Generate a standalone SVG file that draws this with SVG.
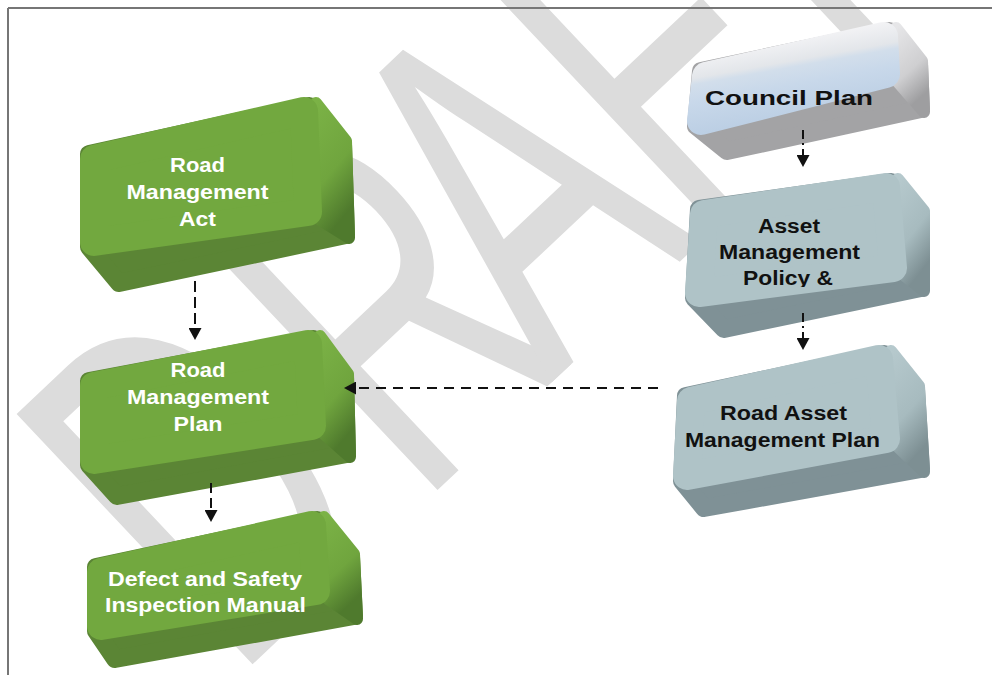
<svg xmlns="http://www.w3.org/2000/svg" width="992" height="675" viewBox="0 0 992 675">
  <defs>
    <style>
      .wm { font-family: "Liberation Sans", Arial, sans-serif; font-size: 500px; fill: #dcdcdc; }
      .lbl { font-family: "Liberation Sans", Arial, sans-serif; font-weight: bold; font-size: 20px; text-anchor: middle; }
      .w { fill: #ffffff; }
      .k { fill: #111111; }
      .rnd { stroke-linejoin: round; }
      .g-bot { fill: #5b8535; stroke: #5b8535; stroke-width: 18; }
      .g-side { fill: url(#gSide); stroke: url(#gSide); stroke-width: 12; }
      .g-front { fill: #72a83f; stroke: #72a83f; stroke-width: 28; }
      .b-bot { fill: #7f9196; stroke: #7f9196; stroke-width: 18; }
      .b-side { fill: url(#bSide); stroke: url(#bSide); stroke-width: 12; }
      .b-front { fill: #afc3c7; stroke: #afc3c7; stroke-width: 28; }
      .c-bot { fill: #a3a3a5; stroke: #a3a3a5; stroke-width: 18; }
      .c-side { fill: url(#cSide); stroke: url(#cSide); stroke-width: 12; }
      .c-front { fill: url(#cFront); stroke: url(#cFront); stroke-width: 28; }
      .conn { fill: none; stroke: #111111; stroke-width: 2; marker-end: url(#ah); }
    </style>
    <linearGradient id="gSide" x1="0" y1="0" x2="0.3" y2="1">
      <stop offset="0" stop-color="#7bb246"/>
      <stop offset="0.6" stop-color="#70a53e"/>
      <stop offset="1" stop-color="#4f7a2d"/>
    </linearGradient>
    <linearGradient id="bSide" x1="0" y1="0" x2="0.3" y2="1">
      <stop offset="0" stop-color="#b6c9cd"/>
      <stop offset="0.6" stop-color="#a7bbbf"/>
      <stop offset="1" stop-color="#7d8f93"/>
    </linearGradient>
    <linearGradient id="cSide" x1="0" y1="0" x2="0.3" y2="1">
      <stop offset="0" stop-color="#e6e6e8"/>
      <stop offset="0.6" stop-color="#cfcfd1"/>
      <stop offset="1" stop-color="#9e9ea0"/>
    </linearGradient>
    <linearGradient id="cFront" gradientUnits="userSpaceOnUse" x1="795" y1="36" x2="809" y2="114">
      <stop offset="0" stop-color="#f4f4f6"/>
      <stop offset="0.3" stop-color="#e3e6ea"/>
      <stop offset="0.38" stop-color="#d2deeb"/>
      <stop offset="0.6" stop-color="#c8d8ea"/>
      <stop offset="1" stop-color="#bccfe4"/>
    </linearGradient>
    <clipPath id="clipPolicy">
      <rect x="680" y="150" width="260" height="137"/>
    </clipPath>
    <marker id="ah" markerUnits="userSpaceOnUse" markerWidth="12" markerHeight="13" refX="0" refY="6.5" orient="auto">
      <path d="M0,0 L12,6.5 L0,13 z" fill="#111111"/>
    </marker>
  </defs>

  <rect width="992" height="675" fill="#ffffff"/>

  <!-- watermark -->
  <g id="watermark">
    <text class="wm" transform="translate(606,290) rotate(-43.3) scale(0.62,1)" y="30"><tspan x="-870">D</tspan><tspan x="-460">R</tspan><tspan x="-167">A</tspan><tspan x="156">F</tspan><tspan x="432">T</tspan></text>
  </g>

  <!-- frame -->
  <g id="frame" stroke="#767676" stroke-width="2" fill="none">
    <line x1="8" y1="8" x2="992" y2="8"/>
    <line x1="8" y1="8" x2="8" y2="675"/>
  </g>

  <!-- green boxes -->
  <g id="road-management-act" class="rnd">
    <polygon class="g-bot" points="89,154 309,106 343,144 346,235 119,283 89,247"/>
    <polygon class="g-side" points="316,103 346,141 349,238 320,220"/>
    <polygon class="g-front" points="94,159 304,111 308,212 94,242"/>
    <text class="lbl w" x="197.5" y="172" textLength="55" lengthAdjust="spacingAndGlyphs">Road</text>
    <text class="lbl w" x="197.5" y="199" textLength="142" lengthAdjust="spacingAndGlyphs">Management</text>
    <text class="lbl w" x="197.5" y="226" textLength="37" lengthAdjust="spacingAndGlyphs">Act</text>
  </g>

  <g id="road-management-plan" class="rnd">
    <polygon class="g-bot" points="89,381 313,339 345,377 347,454 117,496 89,465"/>
    <polygon class="g-side" points="320,336 348,374 350,457 324,434"/>
    <polygon class="g-front" points="94,386 308,344 312,426 94,460"/>
    <text class="lbl w" x="198" y="377" textLength="55" lengthAdjust="spacingAndGlyphs">Road</text>
    <text class="lbl w" x="198" y="404" textLength="142" lengthAdjust="spacingAndGlyphs">Management</text>
    <text class="lbl w" x="198" y="431" textLength="49" lengthAdjust="spacingAndGlyphs">Plan</text>
  </g>

  <g id="defect-safety-manual" class="rnd">
    <polygon class="g-bot" points="96,567 317,520 351,557 354,616 115,659 96,631"/>
    <polygon class="g-side" points="324,517 354,554 357,619 328,599"/>
    <polygon class="g-front" points="101,572 312,525 316,591 101,626"/>
    <text class="lbl w" x="205" y="586" textLength="194" lengthAdjust="spacingAndGlyphs">Defect and Safety</text>
    <text class="lbl w" x="205.5" y="612" textLength="201" lengthAdjust="spacingAndGlyphs">Inspection Manual</text>
  </g>

  <!-- grey boxes -->
  <g id="council-plan" class="rnd">
    <polygon class="c-bot" points="701,71 889,31 919,64 921,109 727,151 696,126"/>
    <polygon class="c-side" points="896,28 922,61 924,112 898,82"/>
    <polygon class="c-front" points="706,76 884,36 886,74 701,121"/>
    <text class="lbl k" x="789" y="105" font-size="26" textLength="168" lengthAdjust="spacingAndGlyphs">Council Plan</text>
  </g>

  <g id="asset-management-policy" class="rnd">
    <polygon class="b-bot" points="699,209 891,182 921,214 921,288 724,329 694,298"/>
    <polygon class="b-side" points="898,179 924,211 924,291 905,276"/>
    <polygon class="b-front" points="704,214 886,187 893,268 699,293"/>
    <text class="lbl k" x="789" y="233" textLength="62" lengthAdjust="spacingAndGlyphs">Asset</text>
    <text class="lbl k" x="789.5" y="259" textLength="141" lengthAdjust="spacingAndGlyphs">Management</text>
    <text class="lbl k" x="788" y="285" textLength="90" lengthAdjust="spacingAndGlyphs" clip-path="url(#clipPolicy)">Policy &amp;</text>
  </g>

  <g id="road-asset-management-plan" class="rnd">
    <polygon class="b-bot" points="686,396 884,354 916,389 921,469 704,508 682,481"/>
    <polygon class="b-side" points="891,351 919,386 924,472 898,447"/>
    <polygon class="b-front" points="691,401 879,359 886,439 687,476"/>
    <text class="lbl k" x="783.5" y="420" textLength="127" lengthAdjust="spacingAndGlyphs">Road Asset</text>
    <text class="lbl k" x="782.5" y="447" textLength="195" lengthAdjust="spacingAndGlyphs">Management Plan</text>
  </g>

  <!-- connectors -->
  <g id="connectors">
    <line class="conn" x1="195" y1="281" x2="195" y2="328" stroke-dasharray="11 5"/>
    <line class="conn" x1="211" y1="483" x2="211" y2="510" stroke-dasharray="10 5"/>
    <line class="conn" x1="803" y1="130" x2="803" y2="155" stroke-dasharray="9 4 2 4"/>
    <line class="conn" x1="803" y1="313" x2="803" y2="338" stroke-dasharray="9 4 2 4"/>
    <line class="conn" x1="658" y1="388" x2="356" y2="388" stroke-dasharray="10 7"/>
  </g>
</svg>
